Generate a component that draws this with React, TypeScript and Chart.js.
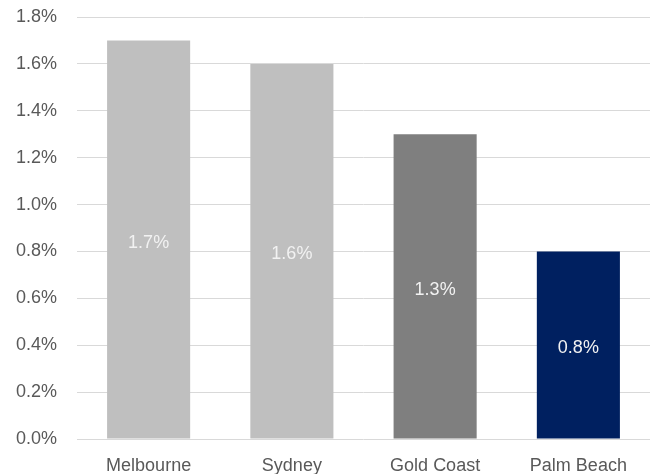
import React, { useEffect, useRef } from "react";
import { Chart, registerables } from "chart.js";

Chart.register(...registerables);

const categories = ["Melbourne", "Sydney", "Gold Coast", "Palm Beach"];
const values = [1.7, 1.6, 1.3, 0.8];
const barColors = ["#bfbfbf", "#bfbfbf", "#7f7f7f", "#002060"];
const yMin = 0;
const yMax = 1.8;
const yStep = 0.2;

const FONT = "'Liberation Sans', Arial, Helvetica, sans-serif";
const FONT_SIZE = 18;

const valueLabels = {
  id: "valueLabels",
  afterDatasetsDraw(chart: any) {
    const { ctx } = chart;
    const meta = chart.getDatasetMeta(0);
    const yScale = chart.scales.y;
    ctx.save();
    ctx.font = `${FONT_SIZE}px ${FONT}`;
    ctx.fillStyle = "#f2f2f2";
    ctx.textAlign = "center";
    ctx.textBaseline = "middle";
    meta.data.forEach((bar: any, i: number) => {
      const v = values[i];
      const y = yScale.getPixelForValue(v / 2) + 3;
      ctx.fillText(v.toFixed(1) + "%", bar.x, y);
    });
    ctx.restore();
  },
};

export default function App() {
  const ref = useRef<HTMLCanvasElement>(null);
  useEffect(() => {
    document.body.style.margin = "0";
    const chart = new Chart(ref.current!, {
      type: "bar",
      data: {
        labels: categories,
        datasets: [
          {
            data: values,
            backgroundColor: barColors,
            barPercentage: 0.58,
            categoryPercentage: 1,
          },
        ],
      },
      options: {
        animation: false,
        responsive: false,
        layout: { padding: { top: 17, right: 1, left: 0, bottom: 0 } },
        plugins: { legend: { display: false }, tooltip: { enabled: false } },
        scales: {
          x: {
            grid: { display: false, drawTicks: false },
            border: { display: false },
            ticks: {
              color: "#595959",
              font: { family: FONT, size: FONT_SIZE },
              padding: 16,
              maxRotation: 0,
            },
            afterFit(scale: any) {
              scale.height = 35;
            },
          },
          y: {
            min: yMin,
            max: yMax,
            border: { display: false },
            grid: {
              color: "#d9d9d9",
              lineWidth: 1,
              drawTicks: true,
              tickLength: 20,
              tickColor: "rgba(0,0,0,0)",
            },
            ticks: {
              stepSize: yStep,
              color: "#595959",
              font: { family: FONT, size: FONT_SIZE },
              padding: 0,
              callback: (v: any) => Number(v).toFixed(1) + "%",
            },
            afterFit(scale: any) {
              scale.width = 77;
            },
          },
        },
      },
      plugins: [valueLabels],
    });
    return () => chart.destroy();
  }, []);
  return <canvas ref={ref} width={651} height={474} style={{ display: "block" }} />;
}
